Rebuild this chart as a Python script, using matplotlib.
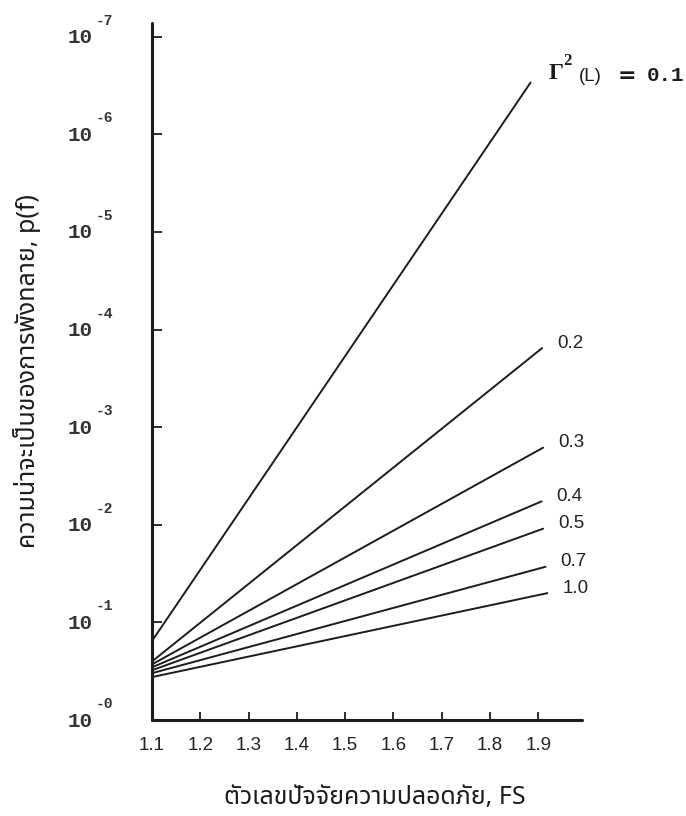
import matplotlib
matplotlib.use("Agg")
import matplotlib.pyplot as plt
from matplotlib import font_manager as fm
from matplotlib.ft2font import FT2Font

# ---------------- data ----------------
fs_start = 1.1
gamma_labels = ["0.1", "0.2", "0.3", "0.4", "0.5", "0.7", "1.0"]
fs_end = [1.884, 1.908, 1.910, 1.907, 1.910, 1.915, 1.919]
# exponent k of p(f) = 10^-k at start (FS = 1.1) and end
k_start = [0.81, 0.60, 0.57, 0.54, 0.51, 0.48, 0.44]
k_end = [6.53, 3.81, 2.79, 2.24, 1.96, 1.57, 1.30]
x_ticks = [1.1, 1.2, 1.3, 1.4, 1.5, 1.6, 1.7, 1.8, 1.9]
x_tick_labels = ["1.1", "1.2", "1.3", "1.4", "1.5", "1.6", "1.7", "1.8", "1.9"]
y_decades = [0, 1, 2, 3, 4, 5, 6, 7]
xlabel = "ตัวเลขปัจจัยความปลอดภัย, FS"
ylabel = "ความน่าจะเป็นของการพังทลาย, p(f)"

# -------------- find a font with Thai glyphs --------------
thai_font = None
cands = []
for f in fm.fontManager.ttflist:
    try:
        ft = FT2Font(f.fname)
        if ft.get_char_index(ord("ก")) and ft.get_char_index(ord("F")):
            cands.append(f.name)
    except Exception:
        pass
for pref in ["Noto Sans Thai", "Loma", "Garuda", "Tlwg Typo", "Noto Sans"]:
    if pref in cands:
        thai_font = pref
        break
if thai_font is None and cands:
    thai_font = cands[0]
thai_family = [thai_font, "DejaVu Sans"] if thai_font else ["DejaVu Sans"]

ink = "#1c1c1c"
fig = plt.figure(figsize=(6.86, 8.16), dpi=100)
ax = fig.add_axes([0.2216, 0.1176, 0.6264, 0.8542])

for lab, xe, ks, ke in zip(gamma_labels, fs_end, k_start, k_end):
    ax.plot([fs_start, xe], [10 ** -ks, 10 ** -ke], color=ink, lw=1.4,
            solid_capstyle="round")

ax.set_yscale("log")
ax.set_ylim(1.0, 10 ** -7.14)
ax.set_xlim(1.1, 1.99)

for s in ["top", "right"]:
    ax.spines[s].set_visible(False)
for s in ["left", "bottom"]:
    ax.spines[s].set_linewidth(2.2)
    ax.spines[s].set_color(ink)
    ax.spines[s].set_capstyle("round")

ax.set_xticks(x_ticks)
ax.set_xticklabels(x_tick_labels, fontfamily="Liberation Sans", fontsize=13.5,
                   color="#222222")
ax.tick_params(axis="x", direction="in", length=6, width=1.3, color=ink, pad=12)
ax.set_yticks([10.0 ** -k for k in y_decades[1:]])
ax.set_yticklabels([])
ax.minorticks_off()
ax.tick_params(axis="y", direction="in", length=7, width=1.3, color=ink,
               which="both")
ax.yaxis.set_minor_locator(matplotlib.ticker.NullLocator())

for k in y_decades:
    ax.annotate("10", xy=(0, 10.0 ** -k), xycoords=("axes fraction", "data"),
                xytext=(-59, -1), textcoords="offset pixels", ha="right",
                va="center", fontfamily="Liberation Mono", fontweight="bold",
                fontsize=15, color="#333333")
    ax.annotate("-%d" % k, xy=(0, 10.0 ** -k), xycoords=("axes fraction", "data"),
                xytext=(-56, 16), textcoords="offset pixels", ha="left",
                va="center", fontfamily="Liberation Mono", fontweight="bold",
                fontsize=10.5, color="#333333")

# line labels
for lab, xe, ke in zip(gamma_labels[1:], fs_end[1:], k_end[1:]):
    ax.annotate(lab, xy=(xe, 10 ** -ke), xytext=(15, 5), textcoords="offset pixels",
                ha="left", va="center", fontfamily="Liberation Sans",
                fontsize=13.5, color="#222222", annotation_clip=False)

end_pt = (fs_end[0], 10 ** -k_end[0])
ax.annotate("Γ", xy=end_pt, xytext=(18, 9), textcoords="offset pixels",
            ha="left", va="center", fontfamily="Liberation Serif",
            fontweight="bold", fontsize=17, color=ink, annotation_clip=False)
ax.annotate("2", xy=end_pt, xytext=(33, 22), textcoords="offset pixels",
            ha="left", va="center", fontfamily="Liberation Serif",
            fontweight="bold", fontsize=12, color=ink, annotation_clip=False)
ax.annotate("(L)", xy=end_pt, xytext=(48, 6), textcoords="offset pixels",
            ha="left", va="center", fontfamily="Liberation Sans",
            fontsize=13.5, color=ink, annotation_clip=False)
ax.annotate("=", xy=end_pt, xytext=(87, 7), textcoords="offset pixels",
            ha="left", va="center", fontfamily="DejaVu Sans",
            fontweight="bold", fontsize=16, color=ink, annotation_clip=False)
ax.annotate("0.1", xy=end_pt, xytext=(116, 7), textcoords="offset pixels",
            ha="left", va="center", fontfamily="Liberation Mono",
            fontweight="bold", fontsize=15, color=ink, annotation_clip=False)

ax.set_xlabel(xlabel, family=thai_family, fontsize=18, color=ink, va="center")
ax.xaxis.set_label_coords(0.518, -0.1105)
ax.set_ylabel(ylabel, family=thai_family, fontsize=18, color=ink, va="center")
ax.yaxis.set_label_coords(-0.29, 0.50)

fig.savefig("out.png", dpi=100, facecolor="white")
